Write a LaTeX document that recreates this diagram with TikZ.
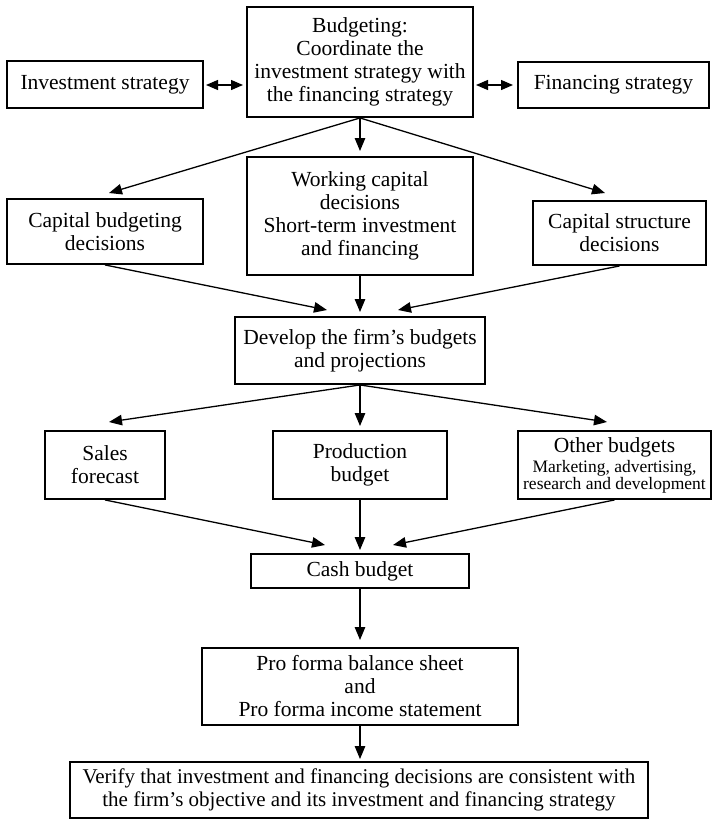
\documentclass[tikz,border=0pt]{standalone}
\usepackage{fontspec}
\setmainfont{Liberation Serif}
\usetikzlibrary{arrows.meta}
\begin{document}
\begin{tikzpicture}[x=1pt,y=-1pt,
  box/.style={draw, line width=1.9pt, align=center, inner sep=0pt,
    font=\fontsize{21.5}{23}\selectfont},
  arr/.style={line width=1.3pt, -{Triangle[length=13pt,width=10.5pt]}},
  darr/.style={line width=1.3pt, {Triangle[length=12pt,width=10pt]}-{Triangle[length=12pt,width=10pt]}},
]
\useasboundingbox (0,0) rectangle (713,820);
\def\smallfont{\fontsize{17.5}{18.5}\selectfont}
% row 1
\node[box, minimum width=226pt, minimum height=110pt] (budget) at (360,62)
  {Budgeting:\\Coordinate the\\investment strategy with\\the financing strategy};
\node[box, minimum width=196pt, minimum height=47pt] (inv) at (105,84.5) {Investment strategy};
\node[box, minimum width=191pt, minimum height=46pt] (fin) at (613.5,85) {Financing strategy};
% row 2
\node[box, minimum width=196pt, minimum height=65pt] (capb) at (105,231.5) {Capital budgeting\\decisions};
\node[box, minimum width=226pt, minimum height=118pt] (work) at (360,216)
  {Working capital\\decisions\\Short-term investment\\and financing};
\node[box, minimum width=173pt, minimum height=64pt] (caps) at (619.5,233) {Capital structure\\decisions};
% row 3
\node[box, minimum width=250pt, minimum height=67pt] (dev) at (360,350.5) {Develop the firm’s budgets\\and projections};
% row 4
\node[box, minimum width=120pt, minimum height=68pt] (sales) at (105,465) {Sales\\forecast};
\node[box, minimum width=174pt, minimum height=68pt] (prod) at (360,465) {Production\\budget};
\node[box, minimum width=193pt, minimum height=68pt] (other) at (614.5,465)
  {Other budgets\\[-3pt]\smallfont Marketing, advertising,\\[-6pt]\smallfont research and development};
% row 5
\node[box, minimum width=218pt, minimum height=34pt] (cash) at (360,571) {Cash budget};
\node[box, minimum width=316pt, minimum height=77pt] (pro) at (360,686.5)
  {Pro forma balance sheet\\and\\Pro forma income statement};
\node[box, minimum width=578pt, minimum height=56pt, font=\fontsize{21}{22.5}\selectfont] (ver) at (359,790)
  {Verify that investment and financing decisions are consistent with\\the firm’s objective and its investment and financing strategy};
% free ends
\coordinate (ia) at (206,85);
\coordinate (ib) at (243,85);
\coordinate (fa) at (476,85);
\coordinate (fb) at (513,85);
\coordinate (t1) at (109,193);
\coordinate (t2) at (360,151);
\coordinate (t3) at (605,193);
\coordinate (u1) at (327,310);
\coordinate (u2) at (360,312);
\coordinate (u3) at (398,310);
\coordinate (v1) at (109,422);
\coordinate (v2) at (360,426);
\coordinate (v3) at (607,422);
\coordinate (w1) at (325,545);
\coordinate (w2) at (360,550);
\coordinate (w3) at (393,545);
\coordinate (x1) at (360,640);
\coordinate (y1) at (360,759);
% connectors
\draw[darr] (ia) -- (ib);
\draw[darr] (fa) -- (fb);
\draw[arr] (budget.south) -- (t1);
\draw[arr] (budget.south) -- (t2);
\draw[arr] (budget.south) -- (t3);
\draw[arr] (capb.south) -- (u1);
\draw[arr] (work.south) -- (u2);
\draw[arr] (caps.south) -- (u3);
\draw[arr] (dev.south) -- (v1);
\draw[arr] (dev.south) -- (v2);
\draw[arr] (dev.south) -- (v3);
\draw[arr] (sales.south) -- (w1);
\draw[arr] (prod.south) -- (w2);
\draw[arr] (other.south) -- (w3);
\draw[arr] (cash.south) -- (x1);
\draw[arr] (pro.south) -- (y1);
\end{tikzpicture}
\end{document}
